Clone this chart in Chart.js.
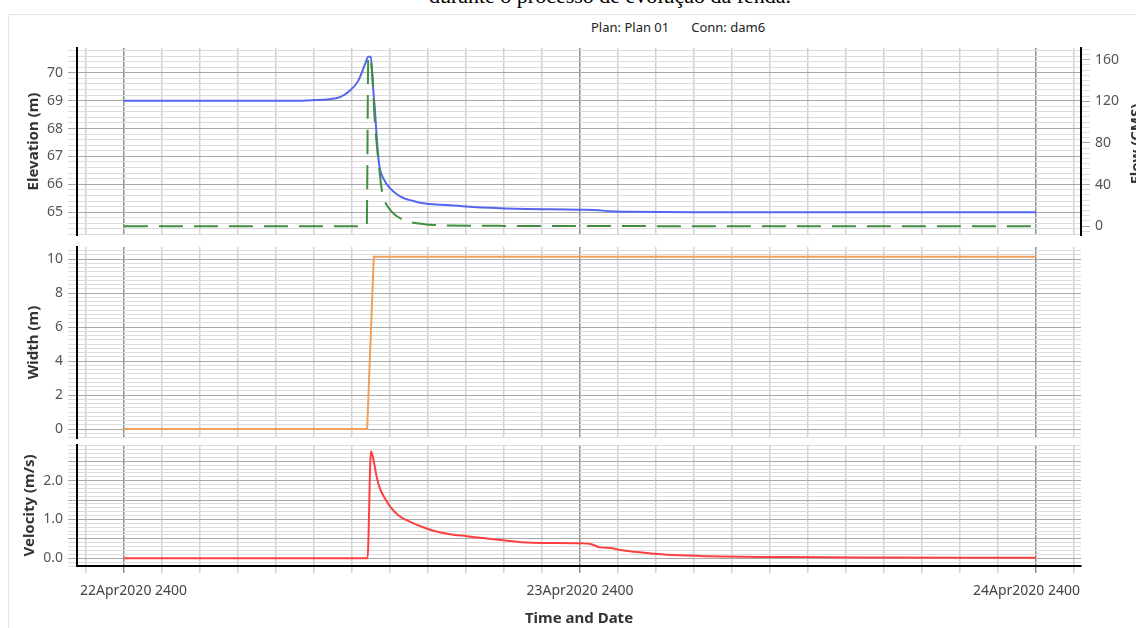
<!DOCTYPE html>
<html><head><meta charset="utf-8">
<script src="https://cdn.jsdelivr.net/npm/chart.js@4.4.1/dist/chart.umd.min.js"></script>
<style>
html,body{margin:0;padding:0;background:#fff;}
body{width:1136px;height:628px;overflow:hidden;position:relative;font-family:'Noto Sans',sans-serif;}
.doc{position:absolute;left:0;width:1220px;top:-15px;text-align:center;font-family:'Liberation Serif',serif;font-size:22px;line-height:22px;color:#000;white-space:nowrap;}
.frame{position:absolute;left:8px;top:14px;width:1140px;height:640px;border:1px solid #e4e4e4;}
.sub{position:absolute;left:591px;top:18px;font-size:13px;line-height:18px;color:#222;white-space:nowrap;}
canvas{position:absolute;left:0;}
.ftitle{position:absolute;left:1085px;top:135px;width:100px;text-align:center;line-height:18px;font-size:15px;font-weight:bold;color:#333;transform:rotate(-90deg);white-space:nowrap;}
</style></head>
<body>
<div class="doc">durante o processo de evolução da fenda.</div>
<div class="frame"></div>
<div class="sub">Plan: Plan 01<span style="margin-left:22px">Conn: dam6</span></div>
<canvas id="c1" width="1136" height="210" style="top:36px"></canvas>
<canvas id="c2" width="1136" height="210" style="top:235px"></canvas>
<canvas id="c3" width="1136" height="195" style="top:433px"></canvas>
<div class="ftitle">Flow (CMS)</div>
<script>
// ---- data (time in hours after 22Apr2020 2400) ----
const xLabelHours = [0, 24, 48];
const xLabels = ['22Apr2020 2400', '23Apr2020 2400', '24Apr2020 2400'];
const xTitle = 'Time and Date';

const elevT = [0, 6, 9, 10, 10.8, 11.37, 11.89, 12.33, 12.68, 12.86, 13.0, 13.07, 13.21, 13.3, 13.38, 13.47, 13.65, 14.0, 14.53, 15.23, 15.93, 17.16, 18.0, 19.8, 22.4, 24.0, 24.8, 25.6, 26.6, 30, 48];
const elevV = [69.0, 69.0, 69.0, 69.02, 69.05, 69.13, 69.36, 69.71, 70.29, 70.58, 70.58, 69.83, 68.66, 67.73, 67.03, 66.56, 66.21, 65.86, 65.57, 65.40, 65.30, 65.25, 65.2, 65.14, 65.1, 65.09, 65.08, 65.03, 65.01, 65.0, 65.0];

const flowT = [0, 12.78, 12.86, 13.0, 13.1, 13.17, 13.3, 13.44, 13.56, 13.68, 14.09, 14.68, 15.74, 16.98, 20, 24, 48];
const flowV = [0, 0, 163, 158, 140, 111, 80, 55, 36, 26.6, 14, 6.3, 2.2, 0.7, 0.3, 0.1, 0];

const widthT = [0, 12.8, 13.15, 48];
const widthV = [0, 0, 10.15, 10.15];

const velT = [0, 12.82, 13.0, 13.12, 13.3, 13.47, 13.74, 14.0, 14.44, 14.88, 15.58, 16.28, 17.16, 18.04, 19.8, 21.5, 24.0, 24.6, 25.05, 25.7, 26.1, 26.8, 28.6, 30.3, 35, 40, 48];
const velV = [0, 0, 2.76, 2.57, 2.10, 1.80, 1.54, 1.34, 1.11, 0.98, 0.83, 0.71, 0.62, 0.57, 0.47, 0.40, 0.385, 0.36, 0.28, 0.26, 0.21, 0.17, 0.09, 0.06, 0.03, 0.02, 0.01];

const elevLabels = [65, 66, 67, 68, 69, 70];
const flowLabels = [0, 40, 80, 120, 160];
const widthLabels = [0, 2, 4, 6, 8, 10];
const velLabels = [0, 1, 2];

// ---- helpers ----
const X_MIN = -2.47, X_MAX = 50.37;
Chart.defaults.font.family = "'Noto Sans', sans-serif";
Chart.defaults.color = '#555';

function range(a, b, step) {
  const out = []; const n = Math.round((b - a) / step);
  for (let i = 0; i <= n; i++) out.push(+(a + i * step).toFixed(4));
  return out;
}
function isIn(v, arr) { return arr.some(a => Math.abs(a - v) < 1e-6); }
function isMult(v, m) { const r = v / m; return Math.abs(r - Math.round(r)) < 1e-6; }
function pts(t, v) { return t.map((x, i) => ({ x: x, y: v[i] })); }

function xAxis(show, h) {
  return {
    type: 'linear', min: X_MIN, max: X_MAX,
    afterBuildTicks: s => { s.ticks = range(-2, 50, 2).map(v => ({ value: v })); },
    afterFit: s => { s.height = h; s.paddingLeft = 0; s.paddingRight = 0; },
    grid: {
      color: c => (c.tick && isMult(c.tick.value, 24)) ? '#8f8f8f' : '#d2d2d2',
      lineWidth: 1.5, drawTicks: show, tickLength: 7
    },
    border: { display: show, color: '#000', width: 2 },
    ticks: {
      display: show, autoSkip: false, maxRotation: 0, minRotation: 0, padding: 10,
      color: '#444', font: { size: 14 },
      callback: v => { const i = xLabelHours.findIndex(hh => Math.abs(hh - v) < 1e-6); return i >= 0 ? xLabels[i] : ''; }
    },
    title: show ? { display: true, text: xTitle, color: '#333', font: { size: 15, weight: 'bold' }, padding: { top: 0, bottom: 0 } } : { display: false }
  };
}

function yAxis(o) {
  return {
    type: 'linear', position: o.position || 'left', min: o.min, max: o.max, bounds: 'data',
    afterBuildTicks: s => { s.ticks = range(o.tmin, o.tmax, o.step).map(v => ({ value: v })); },
    afterFit: s => { s.width = o.width; s.paddingTop = 0; s.paddingBottom = 0; },
    grid: {
      drawOnChartArea: o.onArea !== false,
      color: c => (c.tick && isMult(c.tick.value, o.major)) ? '#a8a8a8' : '#dcdcdc',
      lineWidth: 1, drawTicks: true, tickLength: 9
    },
    border: { display: true, color: '#000', width: 2 },
    ticks: {
      autoSkip: false, padding: 5, color: '#555', font: { size: 14 },
      callback: v => isIn(v, o.labels) ? (o.fmt ? o.fmt(v) : String(v)) : ''
    },
    title: o.title ? { display: true, text: o.title, color: '#333', font: { size: 15, weight: 'bold' }, padding: { top: o.tpad, bottom: 0 } } : { display: false }
  };
}

const clampXLabels = {
  id: 'clampXLabels',
  beforeDraw(chart) {
    const s = chart.scales.x;
    if (!s || !s.getLabelItems || !s.options.ticks.display) return;
    try {
      const items = s.getLabelItems(chart.chartArea);
      const ctx = chart.ctx;
      items.forEach(it => {
        if (!it.label) return;
        ctx.save(); ctx.font = it.font.string; const w = ctx.measureText(it.label).width; ctx.restore();
        let left = it.options.translation[0] - w / 2;
        left = Math.max(left, chart.chartArea.left + 3);
        left = Math.min(left, chart.chartArea.right - 1 - w);
        it.options.translation[0] = left + w / 2;
      });
    } catch (e) {}
  }
};

const common = {
  responsive: false, animation: false, devicePixelRatio: 1,
  plugins: { legend: { display: false }, tooltip: { enabled: false } },
  elements: { point: { radius: 0 }, line: { borderWidth: 2 } }
};

// ---- chart 1: elevation + flow ----
new Chart(document.getElementById('c1'), {
  type: 'line',
  data: {
    datasets: [
      { data: pts(flowT, flowV), yAxisID: 'y1', borderColor: '#3f8f3f', borderDash: [24, 11], borderWidth: 2, cubicInterpolationMode: 'monotone', fill: false },
      { data: pts(elevT, elevV), yAxisID: 'y', borderColor: '#5566ee', borderWidth: 2, cubicInterpolationMode: 'monotone', fill: false }
    ]
  },
  options: Object.assign({}, common, {
    layout: { padding: { top: 12, right: 0, bottom: 0, left: 0 } },
    scales: {
      x: xAxis(false, 11),
      y: yAxis({ min: 64.18, max: 70.89, tmin: 64.2, tmax: 70.8, step: 0.2, major: 1, labels: elevLabels, width: 77, title: 'Elevation (m)', tpad: 25 }),
      y1: yAxis({ position: 'right', min: -8.47, max: 171.3, tmin: -5, tmax: 170, step: 5, major: 40, labels: flowLabels, width: 55, onArea: false })
    }
  })
});

// ---- chart 2: width ----
new Chart(document.getElementById('c2'), {
  type: 'line',
  data: { datasets: [ { data: pts(widthT, widthV), yAxisID: 'y', borderColor: '#f0a05a', borderWidth: 2, fill: false } ] },
  options: Object.assign({}, common, {
    layout: { padding: { top: 12, right: 55, bottom: 0, left: 0 } },
    scales: {
      x: xAxis(false, 7),
      y: yAxis({ min: -0.53, max: 10.72, tmin: -0.5, tmax: 10.5, step: 0.25, major: 2, labels: widthLabels, width: 77, title: 'Width (m)', tpad: 25 })
    }
  })
});

// ---- chart 3: velocity ----
new Chart(document.getElementById('c3'), {
  type: 'line',
  data: { datasets: [ { data: pts(velT, velV), yAxisID: 'y', borderColor: '#ff4040', borderWidth: 2, cubicInterpolationMode: 'monotone', fill: false } ] },
  options: Object.assign({}, common, {
    layout: { padding: { top: 12, right: 55, bottom: 0, left: 0 } },
    scales: {
      x: xAxis(true, 62),
      y: yAxis({ min: -0.2, max: 2.92, tmin: -0.2, tmax: 2.9, step: 0.1, major: 0.5, labels: velLabels, fmt: v => v.toFixed(1), width: 77, title: 'Velocity (m/s)', tpad: 21 })
    }
  }),
  plugins: [clampXLabels]
});
</script>
</body></html>
